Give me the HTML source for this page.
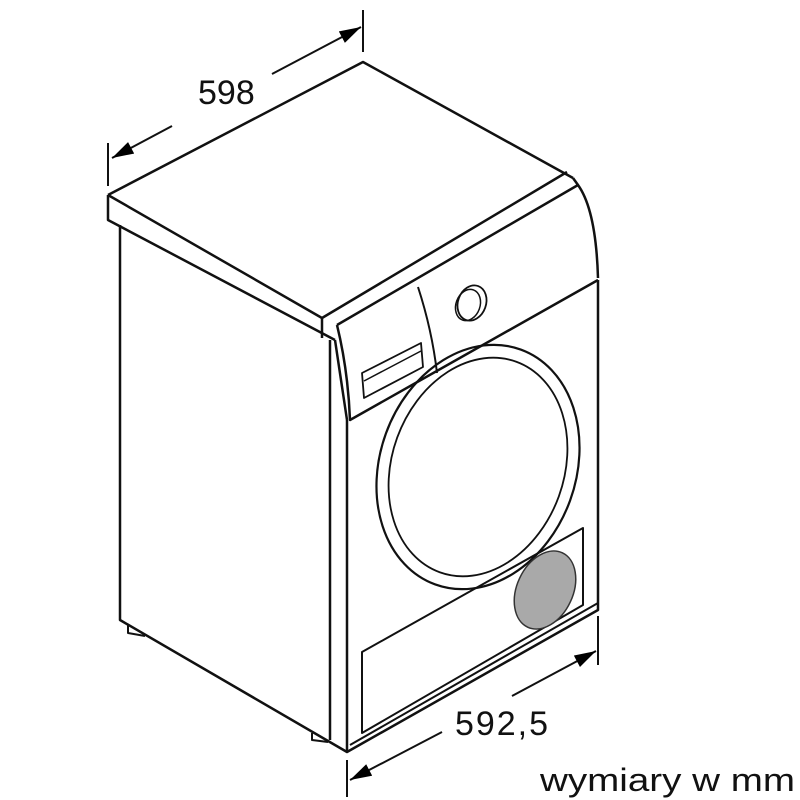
<!DOCTYPE html>
<html><head><style>
html,body{margin:0;padding:0;background:#fff;}
svg{display:block;}
text{font-family:"Liberation Sans",sans-serif;fill:#111;}
</style></head><body>
<svg width="800" height="800" viewBox="0 0 800 800">
<defs>
<marker id="b" viewBox="0 0 20 12" refX="20" refY="6" markerWidth="22" markerHeight="13" orient="auto" markerUnits="userSpaceOnUse"><path d="M0,0 L20,6 L0,12z" fill="#000"/></marker>
</defs>
<g fill="none" stroke="#111" stroke-width="2.5" stroke-linejoin="round">
<path d="M108,195 L363,62 L573,178"/>
<path d="M108,195 L322,318 L567,172"/>
<path d="M108,195 L108,220 L335,340"/>
<path d="M322,318 L322,338"/>
<path d="M337,325 L578,185 Q596,210 598,278"/>
<path d="M573,178 L578,185"/>
<path d="M337,325 Q348,370 350,420 L598,280"/>
<path d="M418,287 Q432,330 437,373" stroke-width="2"/>
<ellipse cx="472" cy="303" rx="14" ry="18" transform="rotate(20 472 303)" stroke-width="1.8"/>
<ellipse cx="468" cy="305" rx="12" ry="16" transform="rotate(20 468 305)" stroke-width="1.5"/>
<path d="M362,373 L421,343 L423,367 L364,398 Z" stroke-width="1.8"/>
<path d="M364,381 L421,351" stroke-width="1.5"/>
<path d="M120,225 L120,620 L347,752 L598,610 L598,280"/>
<path d="M330,340 L330,740"/>
<path d="M347,420 L347,752"/>
<path d="M335,340 L347,420"/>
<path d="M350,745 L598,603" stroke-width="2"/>
<ellipse cx="478" cy="467" rx="98" ry="125" transform="rotate(20 478 467)" stroke-width="2.2"/>
<ellipse cx="478" cy="467" rx="86" ry="112" transform="rotate(20 478 467)" stroke-width="1.8"/>
<path d="M362,652 L583,528 L583,605 L362,733 Z" stroke-width="2"/>
<path d="M128,625 L128,633 L145,636" stroke-width="2"/>
<path d="M312,733 L312,740 L328,742" stroke-width="2"/>
</g>
<ellipse cx="545" cy="590" rx="28" ry="41" transform="rotate(25 545 590)" fill="#a9a9a9" stroke="#333" stroke-width="1.5"/>
<g stroke="#111" stroke-width="2" fill="none">
<path d="M108,143 L108,186"/>
<path d="M363,10 L363,52"/>
<path d="M172,126 L112,158" marker-end="url(#b)"/>
<path d="M272,74 L361,27" marker-end="url(#b)"/>
<path d="M347,760 L347,797"/>
<path d="M598,616 L598,665"/>
<path d="M442,732 L350,780" marker-end="url(#b)"/>
<path d="M512,696 L596,651" marker-end="url(#b)"/>
</g>
<text x="198" y="104" font-size="34">598</text>
<text x="455" y="735" font-size="34" textLength="93">592,5</text>
<text x="540" y="791" font-size="32" textLength="255" lengthAdjust="spacingAndGlyphs">wymiary w mm</text>
</svg>
</body></html>
